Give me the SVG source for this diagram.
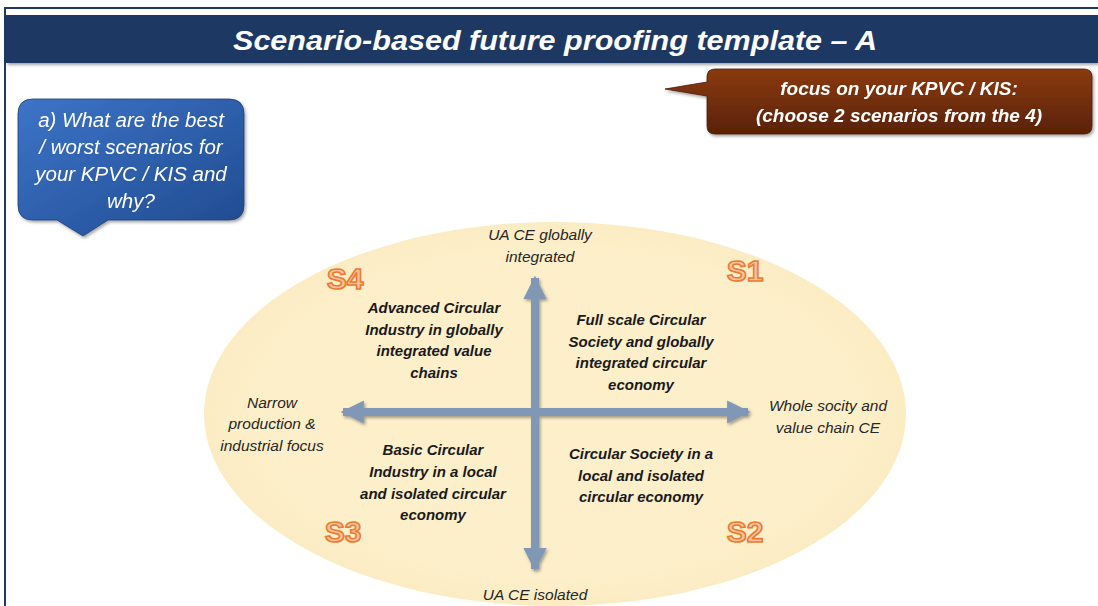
<svg xmlns="http://www.w3.org/2000/svg" width="1098" height="606" viewBox="0 0 1098 606">
<style>
.ax{font-family:"Liberation Sans",Arial,sans-serif;font-style:italic;font-size:15.5px;fill:#262626;text-anchor:middle}
.q{font-family:"Liberation Sans",Arial,sans-serif;font-style:italic;font-weight:bold;font-size:15px;fill:#1a1a1a;text-anchor:middle}
.s{font-family:"Liberation Sans",Arial,sans-serif;font-weight:bold;font-size:30px;fill:#fcc3a0;stroke:#ee7a30;stroke-width:1.6;text-anchor:middle}
.wt{font-family:"Liberation Sans",Arial,sans-serif;font-style:italic;fill:#ffffff;text-anchor:middle}
</style>
<defs>
<linearGradient id="gBlue" x1="0" y1="0" x2="1" y2="1">
<stop offset="0" stop-color="#3d74c8"/><stop offset="1" stop-color="#1f4a8e"/>
</linearGradient>
<linearGradient id="gBrown" x1="0" y1="0" x2="0" y2="1">
<stop offset="0" stop-color="#8a3a0c"/><stop offset="1" stop-color="#5a2206"/>
</linearGradient>
<radialGradient id="gEll" cx="0.5" cy="0.5" r="0.5">
<stop offset="0.85" stop-color="#fdefc9"/><stop offset="1" stop-color="#fbecc4"/>
</radialGradient>
<filter id="sh" x="-10%" y="-10%" width="120%" height="130%">
<feDropShadow dx="1.5" dy="2" stdDeviation="1.5" flood-color="#000" flood-opacity="0.35"/>
</filter>
<marker id="ah" viewBox="0 0 10 10" refX="9" refY="5" markerWidth="2.9" markerHeight="2.9" orient="auto-start-reverse" markerUnits="strokeWidth">
<path d="M0,0 L10,5 L0,10 z" fill="#8097b5"/>
</marker>
</defs>
<rect width="1098" height="606" fill="#ffffff"/>
<g id="frame">
<path d="M5,606 V8 H1098" fill="none" stroke="#1f3864" stroke-width="2"/>
</g>
<g id="title">
<rect x="6" y="15" width="1092" height="48" fill="#1f3864" filter="url(#sh)"/>
<text class="wt" x="555" y="50" font-size="27" font-weight="bold" textLength="644" lengthAdjust="spacingAndGlyphs">Scenario-based future proofing template – A</text>
</g>
<g id="focus-callout" filter="url(#sh)">
<path d="M715,69 H1084 Q1092,69 1092,77 V126 Q1092,134 1084,134 H715 Q707,134 707,126 V96 L665,89 L707,82 V77 Q707,69 715,69 Z" fill="url(#gBrown)" stroke="#4a1c04" stroke-width="0.8"/>
<text class="wt" x="899" y="95" font-size="19" font-weight="bold">focus on your KPVC / KIS:</text>
<text class="wt" x="899" y="122" font-size="19" font-weight="bold">(choose 2 scenarios from the 4)</text>
</g>
<g id="question-callout" filter="url(#sh)">
<path d="M33,99 H229 Q244,99 244,114 V205 Q244,220 229,220 H108 L83,236 L57,220 H33 Q18,220 18,205 V114 Q18,99 33,99 Z" fill="url(#gBlue)" stroke="#1d3f78" stroke-width="0.8"/>
<text class="wt" x="131" y="127" font-size="20.5">a) What are the best</text>
<text class="wt" x="131" y="154" font-size="20.5">/ worst scenarios for</text>
<text class="wt" x="131" y="181" font-size="20.5">your KPVC / KIS and</text>
<text class="wt" x="131" y="208" font-size="20.5">why?</text>
</g>
<g id="scenario-field">
<ellipse cx="555" cy="414" rx="351" ry="192" fill="url(#gEll)"/>
</g>
<g id="connectors" filter="url(#sh)">
<line x1="535" y1="569" x2="535" y2="278" stroke="#8097b5" stroke-width="8" marker-end="url(#ah)" marker-start="url(#ah)"/>
<line x1="343" y1="412" x2="748" y2="412" stroke="#8097b5" stroke-width="8" marker-end="url(#ah)" marker-start="url(#ah)"/>
</g>
<g id="axis-top"><text class="ax" x="540" y="240">UA CE globally</text><text class="ax" x="540" y="262">integrated</text></g>
<g id="axis-left"><text class="ax" x="272" y="408">Narrow</text><text class="ax" x="272" y="429">production &amp;</text><text class="ax" x="272" y="451">industrial focus</text></g>
<g id="axis-right"><text class="ax" x="828" y="411">Whole socity and</text><text class="ax" x="828" y="433">value chain CE</text></g>
<g id="axis-bottom"><text class="ax" x="535" y="600">UA CE isolated</text></g>
<g id="S4"><text class="s" x="345" y="289">S4</text>
<text class="q" x="434" y="313">Advanced Circular</text><text class="q" x="434" y="335">Industry in globally</text><text class="q" x="434" y="356">integrated value</text><text class="q" x="434" y="378">chains</text></g>
<g id="S1"><text class="s" x="745" y="281">S1</text>
<text class="q" x="641" y="325">Full scale Circular</text><text class="q" x="641" y="347">Society and globally</text><text class="q" x="641" y="368">integrated circular</text><text class="q" x="641" y="390">economy</text></g>
<g id="S3"><text class="s" x="343" y="542">S3</text>
<text class="q" x="433" y="455">Basic Circular</text><text class="q" x="433" y="477">Industry in a local</text><text class="q" x="433" y="499">and isolated circular</text><text class="q" x="433" y="520">economy</text></g>
<g id="S2"><text class="s" x="745" y="542">S2</text>
<text class="q" x="641" y="459">Circular Society in a</text><text class="q" x="641" y="481">local and isolated</text><text class="q" x="641" y="502">circular economy</text></g>
</svg>
